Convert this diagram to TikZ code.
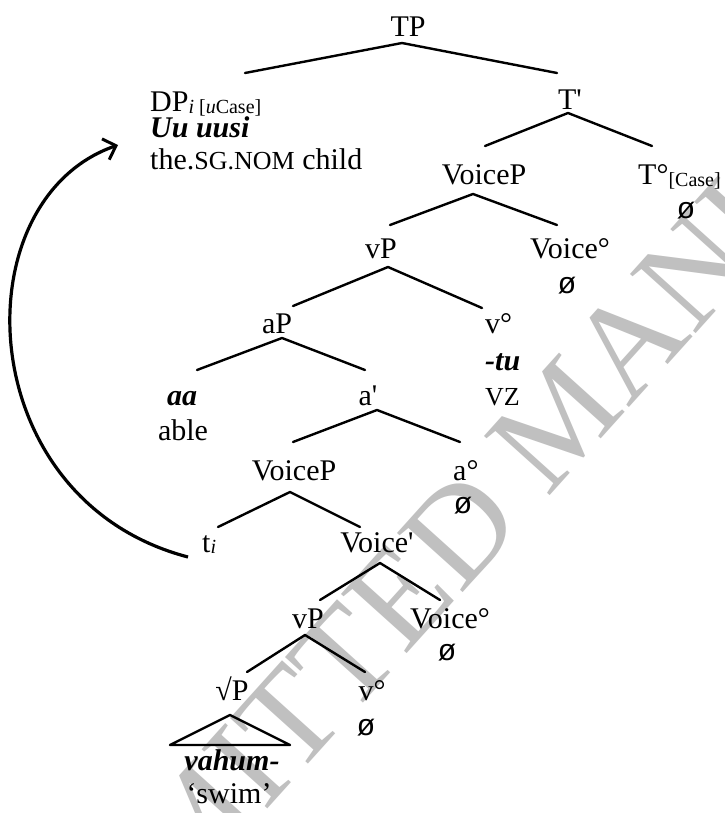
\documentclass[tikz,border=0pt]{standalone}
\usepackage{fontspec}
\setmainfont{Liberation Serif}[Ligatures=TeXOff]
\newfontfamily\sansf{Liberation Sans}
\usetikzlibrary{arrows.meta}
\definecolor{wmgray}{RGB}{192,192,192}
% null exponent, reduced caps and lowered feature subscripts
\newcommand\nullmorph{{\sansf ø}}
\newcommand\smc[1]{{\fontsize{26}{27}\selectfont #1}}
\newcommand\lowsub[1]{\raisebox{-1.5pt}{\fontsize{20}{21}\selectfont #1}}
\tikzset{
  lbl/.style={inner sep=0pt, anchor=base, font=\fontsize{30}{31}\selectfont},
  lblw/.style={lbl, anchor=base west},
  branch/.style={line width=2.4pt, line cap=round, line join=round},
  movement/.style={line width=3.2pt, -{Straight Barb[length=11pt,width=22pt,line width=3pt]}},
  watermark/.style={inner sep=0pt, anchor=base west, rotate=48, text=wmgray,
    font=\fontsize{135}{135}\selectfont}
}
\begin{document}
\begin{tikzpicture}[x=1pt,y=-1pt]
\useasboundingbox (0,0) rectangle (724,813);
\fill[white] (0,0) rectangle (724,813);

\begin{scope}
  \clip (0,0) rectangle (724,813);
  \node[watermark] (wmark) at (548,498) {\llap{AUTHOR SUBMITTED }MANUSCRIPT};
\end{scope}

% labels
\node[lbl]  (tp)   at (408,37)  {TP};
\node[lblw] (dp)   at (150,112) {DP\lowsub{\textit{i} [\textit{u}Case]}};
\node[lblw] (dpf)  at (150,138) {\textbf{\textit{Uu uusi}}};
\node[lblw] (dpg)  at (150,170) {the.\smc{SG.NOM} child};
\node[lbl]  (tbar) at (570,110) {T'};
\node[lbl]  (voicep1) at (484,185) {VoiceP};
\node[lblw] (thead) at (638,185) {T°\lowsub{[Case]}};
\node[lbl]  (tnull) at (686,218) {\nullmorph};
\node[lbl]  (vp1)  at (381,258) {vP};
\node[lbl]  (voice1) at (570,258) {Voice°};
\node[lbl]  (voice1n) at (567,293) {\nullmorph};
\node[lbl]  (ap)   at (277,333) {aP};
\node[lblw] (vhead1) at (485,333) {v°};
\node[lblw] (vtu)  at (485,370) {\textbf{\textit{-tu}}};
\node[lblw] (vz)   at (485,405) {\smc{VZ}};
\node[lbl]  (aa)   at (182,405) {\textbf{\textit{aa}}};
\node[lbl]  (able) at (183,440) {able};
\node[lbl]  (abar) at (368,405) {a'};
\node[lbl]  (voicep2) at (294,480) {VoiceP};
\node[lblw] (ahead) at (453,480) {a°};
\node[lbl]  (anull) at (463,513) {\nullmorph};
\node[lblw] (trace) at (202,552) {t\lowsub{\textit{i}}};
\node[lbl]  (voicebar) at (377,552) {Voice'};
\node[lbl]  (vp2)  at (308,628) {vP};
\node[lbl]  (voice2) at (450,628) {Voice°};
\node[lbl]  (voice2n) at (447,660) {\nullmorph};
\node[lbl]  (rootp) at (232,700) {√P};
\node[lbl]  (vhead2) at (372,700) {v°};
\node[lbl]  (vnull2) at (366,735) {\nullmorph};
\node[lbl]  (root) at (232,770) {\textbf{\textit{vahum-}}};
\node[lbl]  (gloss) at (229,803) {‘swim’};

% branch points
\coordinate (tp-a) at (402,43);   \coordinate (tp-l) at (245,73);   \coordinate (tp-r) at (557,73);
\coordinate (tb-a) at (568,113);  \coordinate (tb-l) at (485,146);  \coordinate (tb-r) at (652,146);
\coordinate (vo-a) at (473,194);  \coordinate (vo-l) at (390,225);  \coordinate (vo-r) at (557,225);
\coordinate (v1-a) at (388,267);  \coordinate (v1-l) at (293,306);  \coordinate (v1-r) at (482,308);
\coordinate (ap-a) at (282,338);  \coordinate (ap-l) at (197,370);  \coordinate (ap-r) at (365,370);
\coordinate (ab-a) at (377,410);  \coordinate (ab-l) at (293,442);  \coordinate (ab-r) at (460,442);
\coordinate (v2-a) at (290,492);  \coordinate (v2-l) at (218,527);  \coordinate (v2-r) at (360,527);
\coordinate (vb-a) at (380,563);  \coordinate (vb-l) at (320,600);  \coordinate (vb-r) at (440,600);
\coordinate (vp-a) at (305,635);  \coordinate (vp-l) at (247,672);  \coordinate (vp-r) at (365,672);
\coordinate (rt-a) at (230,715);  \coordinate (rt-l) at (170,745);  \coordinate (rt-r) at (290,745);

\draw[branch] (tp-l) -- (tp-a) -- (tp-r);
\draw[branch] (tb-l) -- (tb-a) -- (tb-r);
\draw[branch] (vo-l) -- (vo-a) -- (vo-r);
\draw[branch] (v1-l) -- (v1-a) -- (v1-r);
\draw[branch] (ap-l) -- (ap-a) -- (ap-r);
\draw[branch] (ab-l) -- (ab-a) -- (ab-r);
\draw[branch] (v2-l) -- (v2-a) -- (v2-r);
\draw[branch] (vb-l) -- (vb-a) -- (vb-r);
\draw[branch] (vp-l) -- (vp-a) -- (vp-r);
\draw[branch] (rt-l) -- (rt-a) -- (rt-r) -- cycle;

% movement of the subject
\coordinate (landing) at (118,145);
\draw[movement] ([xshift=-14pt,yshift=-5pt]trace.base west) .. controls (-30,500) and (-40,200) .. (landing);
\end{tikzpicture}
\end{document}
